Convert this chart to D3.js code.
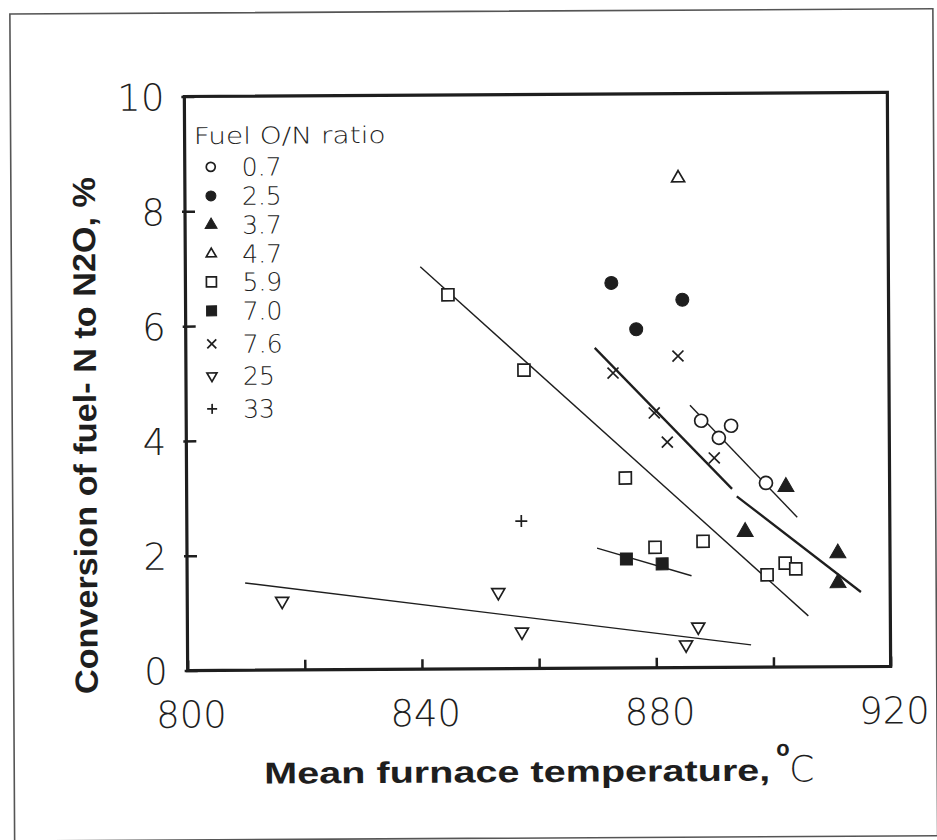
<!DOCTYPE html>
<html><head><meta charset="utf-8">
<script src="https://cdn.jsdelivr.net/npm/d3@7"></script>
<style>body{margin:0;background:#fff}</style>
</head><body>
<svg id="c" width="937" height="840"></svg>
<script>
// ---- data ----
const ratioLabels = ["0.7","2.5","3.7","4.7","5.9","7.0","7.6","25","33"];
const xTickValues = [800,820,840,860,880,900,920];
const xTickLabels = ["800","","840","","880","","920"];
const yTickValues = [0,2,4,6,8,10];
const yTickLabels = ["0","2","4","6","8","10"];

const temp07 = [887.9,893.0,890.9,898.9];
const conv07 = [4.30,4.21,4.00,3.21];
const temp25 = [872.7,884.8,876.9];
const conv25 = [6.71,6.41,5.90];
const temp37 = [902.3,895.3,911.1,911.1];
const conv37 = [3.14,2.36,1.98,1.46];
const temp47 = [884.2];
const conv47 = [8.53];
const temp59 = [844.8,857.7,874.9,879.9,888.1,899.0,902.1,903.9];
const conv59 = [6.52,5.20,3.31,2.10,2.20,1.61,1.81,1.71];
const temp70 = [875.0,881.1];
const conv70 = [1.90,1.81];
const temp76 = [884.0,872.9,879.9,882.1,890.1];
const conv76 = [5.43,5.14,4.44,3.93,3.65];
const temp250 = [816.2,853.1,857.1,887.2,885.1];
const conv250 = [1.20,1.33,0.64,0.71,0.40];
const temp330 = [857.1];
const conv330 = [2.57];

// fitted lines (end points in data units)
const fit07T = [886.0,904.2], fit07C = [4.57,2.61];
const fit76T = [869.8,893.1], fit76C = [5.58,3.11];
const fit37T = [893.9,915.0], fit37C = [2.98,1.30];
const fit59T = [840.1,906.0], fit59C = [7.01,0.89];
const fit70T = [870.0,886.1], fit70C = [2.09,1.60];
const fit250T = [809.9,896.2], fit250C = [1.52,0.39];

// ---- drawing ----
const svg = d3.select("#c");
const root = svg.append("g").attr("transform","rotate(-0.33,537.5,381.5)");
const M = {l:186, r:889, t:94.5, b:668.5};
const x = d3.scaleLinear().domain([800,920]).range([M.l,M.r]);
const y = d3.scaleLinear().domain([0,10]).range([M.b,M.t]);
const INK = "#1e1e1e";
const lightFont = "'DejaVu Sans', sans-serif";

// outer frame
root.append("rect").attr("x",12).attr("y",11).attr("width",923).attr("height",827)
  .attr("fill","none").attr("stroke","#555").attr("stroke-width",1.6);

// axes
const xAxis = d3.axisBottom(x).tickValues(xTickValues)
  .tickFormat((d,i)=>xTickLabels[i]).tickSizeInner(-10).tickSizeOuter(0);
const gx = root.append("g").attr("transform",`translate(0,${M.b})`).call(xAxis);
gx.select(".domain").remove();
gx.selectAll(".tick line").attr("stroke",INK).attr("stroke-width",2.5);
gx.selectAll(".tick text").attr("y",57).attr("dy",0).attr("dx",3)
  .attr("font-family",lightFont).attr("font-weight",200).attr("font-size",37).attr("fill",INK);

const yAxis = d3.axisLeft(y).tickValues(yTickValues)
  .tickFormat((d,i)=>yTickLabels[i]).tickSizeInner(-10).tickSizeOuter(0);
const gy = root.append("g").attr("transform",`translate(${M.l},0)`).call(yAxis);
gy.select(".domain").remove();
gy.selectAll(".tick line").attr("stroke",INK).attr("stroke-width",2.5).attr("x1",-3);
gy.selectAll(".tick text").attr("x",-20).attr("dy","0.36em")
  .attr("font-family",lightFont).attr("font-weight",200).attr("font-size",37).attr("fill",INK);

// plot box
root.append("rect").attr("x",M.l).attr("y",M.t).attr("width",M.r-M.l).attr("height",M.b-M.t)
  .attr("fill","none").attr("stroke",INK).attr("stroke-width",3.2);

// axis titles
root.append("text").attr("transform","translate(96,433) rotate(-90)")
  .attr("text-anchor","middle").attr("font-family","'Liberation Sans', Arial, sans-serif")
  .attr("font-weight","bold").attr("font-size",32).attr("fill",INK)
  .attr("textLength",517).attr("lengthAdjust","spacingAndGlyphs")
  .text("Conversion of fuel- N to N2O, %");

const xt = root.append("g");
xt.append("text").attr("x",262).attr("y",782)
  .attr("font-family","'Liberation Sans', Arial, sans-serif").attr("font-weight","bold")
  .attr("font-size",30).attr("fill",INK).attr("textLength",506).attr("lengthAdjust","spacingAndGlyphs")
  .text("Mean furnace temperature,");
xt.append("text").attr("x",774).attr("y",757)
  .attr("font-family","'Liberation Sans', Arial, sans-serif").attr("font-weight","bold")
  .attr("font-size",22).attr("fill",INK).text("o");
xt.append("text").attr("x",787).attr("y",783)
  .attr("font-family",lightFont).attr("font-weight",200)
  .attr("font-size",36).attr("fill",INK).text("C");

// marker helpers
const plot = root.append("g");
function drawLine(T,C,w){
  plot.append("path").datum(T.map((t,i)=>[t,C[i]]))
    .attr("d",d3.line().x(d=>x(d[0])).y(d=>y(d[1])))
    .attr("fill","none").attr("stroke",INK).attr("stroke-width",w);
}
function symPath(kind, s){
  if(kind==="circle") return d3.symbol(d3.symbolCircle, Math.PI*s*s/4)();
  if(kind==="square") return d3.symbol(d3.symbolSquare, s*s)();
  if(kind==="tri" || kind==="dtri") return d3.symbol(d3.symbolTriangle, Math.sqrt(3)/4*s*s)();
  const h=s/2;
  if(kind==="x") return `M${-h},${-h}L${h},${h}M${-h},${h}L${h},${-h}`;
  if(kind==="plus") return `M${-h},0L${h},0M0,${-h}L0,${h}`;
}
function drawMarker(g, kind, filled, s, cx, cy){
  const p = g.append("path").attr("d",symPath(kind,s))
    .attr("transform",`translate(${cx},${cy})`+(kind==="dtri"?" rotate(180)":""));
  if(filled) p.attr("fill",INK).attr("stroke",INK).attr("stroke-width",1);
  else p.attr("fill","#fff").attr("stroke",INK).attr("stroke-width",1.7);
  if(kind==="x"||kind==="plus") p.attr("fill","none").attr("stroke-width",1.7);
}
function drawSeries(T,C,kind,filled,s){
  T.forEach((t,i)=>drawMarker(plot,kind,filled,s,x(t),y(C[i])));
}

// lines
drawLine(fit250T,fit250C,1.4);
drawLine(fit59T,fit59C,1.4);
drawLine(fit70T,fit70C,1.4);
drawLine(fit07T,fit07C,1.4);
drawLine(fit76T,fit76C,2.3);
drawLine(fit37T,fit37C,2.3);

// series
const kinds = [
  [temp07,conv07,"circle",false,13],
  [temp25,conv25,"circle",true,13],
  [temp37,conv37,"tri",true,16],
  [temp47,conv47,"tri",false,13],
  [temp59,conv59,"square",false,12],
  [temp70,conv70,"square",true,12],
  [temp76,conv76,"x",false,11],
  [temp250,conv250,"dtri",false,13],
  [temp330,conv330,"plus",false,12]
];
kinds.forEach(k=>drawSeries(k[0],k[1],k[2],k[3],k[4]));

// legend
const lg = root.append("g");
lg.append("text").attr("x",195).attr("y",142)
  .attr("font-family",lightFont).attr("font-weight",300).attr("font-size",23).attr("fill",INK)
  .attr("textLength",192).attr("lengthAdjust","spacingAndGlyphs").text("Fuel O/N ratio");
const rowY = [165,194,223,252,280,309,342,374,407];
const legSize = [9,10,12,10,10,10,9,10,10];
ratioLabels.forEach((lab,i)=>{
  const k = kinds[i];
  drawMarker(lg,k[2],k[3],legSize[i],212,rowY[i]);
  lg.append("text").attr("x",243).attr("y",rowY[i]+9)
    .attr("font-family",lightFont).attr("font-weight",200).attr("font-size",25).attr("fill",INK)
    .text(lab);
});
</script>
</body></html>
